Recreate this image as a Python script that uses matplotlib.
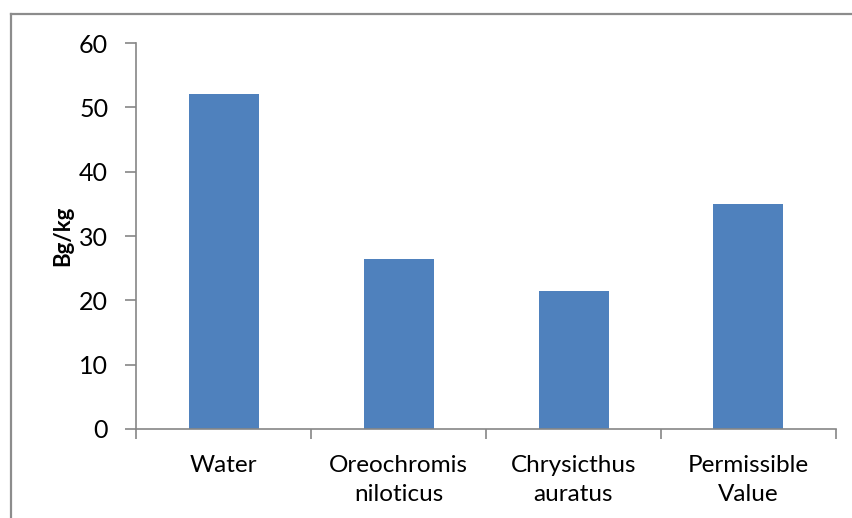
import matplotlib.pyplot as plt
import numpy as np
from matplotlib.lines import Line2D

categories = ['Water', 'Oreochromis\nniloticus', 'Chrysicthus\nauratus', 'Permissible\nValue']
values = [52, 26.5, 21.5, 35]
y_ticks = [0, 10, 20, 30, 40, 50, 60]

plt.rcParams['font.family'] = ['Lato', 'DejaVu Sans']

W, H = 853, 518
fig = plt.figure(figsize=(W / 100, H / 100), dpi=100)
ax = fig.add_axes([136 / W, 1 - 429 / H, (836 - 136) / W, (429 - 43) / H])

x = np.arange(len(categories))
ax.bar(x, values, width=0.4, color='#4F81BD', zorder=2)

gray = '#868686'
ax.set_xlim(-0.5, len(categories) - 0.5)
ax.set_ylim(0, 60)
ax.set_yticks(y_ticks)
ax.set_xticks(x)
ax.set_xticklabels(categories, fontsize=17.5, linespacing=1.45)
ax.set_xticks(np.arange(-0.5, len(categories)), minor=True)
ax.tick_params(axis='x', which='major', length=0, pad=19)
ax.tick_params(axis='x', which='minor', length=7, color=gray, width=1.2, direction='out')
ax.tick_params(axis='y', length=8, color=gray, width=1.2, pad=12, labelsize=18)

for s in ['top', 'right']:
    ax.spines[s].set_visible(False)
for s in ['left', 'bottom']:
    ax.spines[s].set_color(gray)
    ax.spines[s].set_linewidth(1.2)

ax.set_ylabel('Bg/kg', fontsize=16, fontweight='bold')
ax.yaxis.set_label_coords((73 - 136) / (836 - 136), 0.5)

# chart frame (top and left edges visible)
fig.add_artist(Line2D([11 / W, 11 / W], [0, 1 - 14 / H], color='#8c8c8c', lw=1.6))
fig.add_artist(Line2D([11 / W, 1], [1 - 14 / H, 1 - 14 / H], color='#8c8c8c', lw=1.6))

fig.savefig('out.png', dpi=100)
